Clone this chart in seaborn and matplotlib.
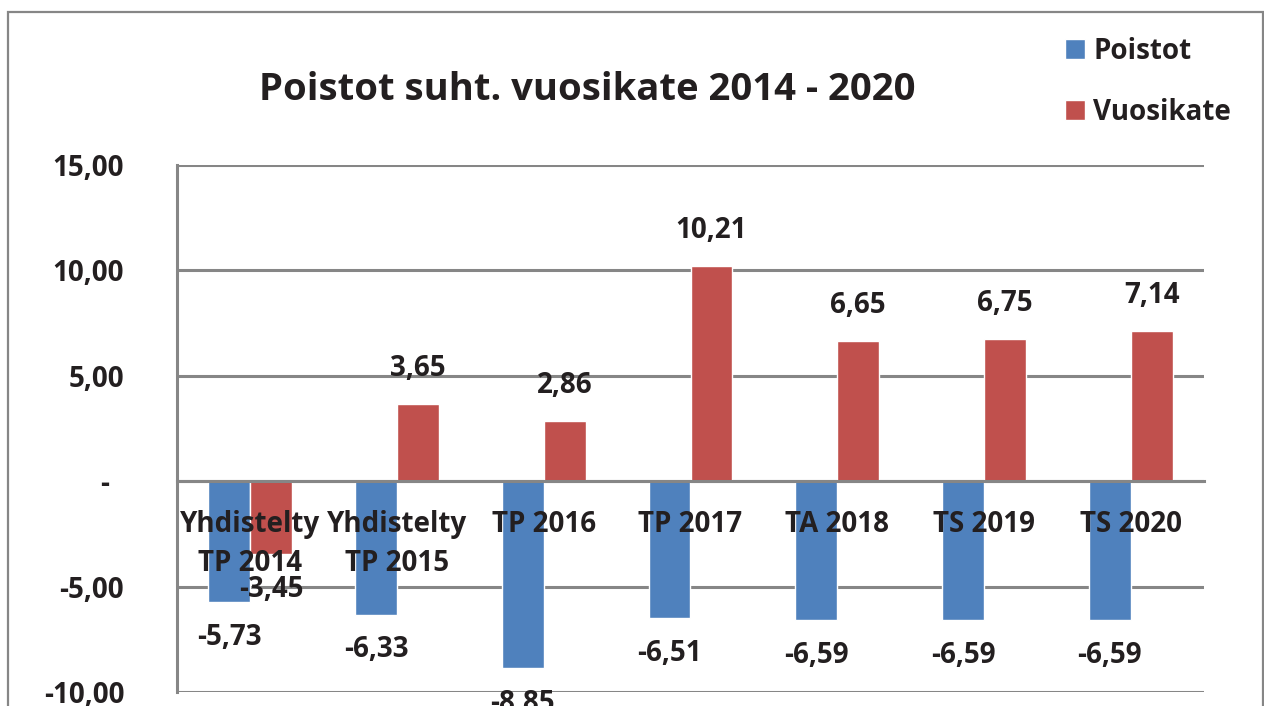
import matplotlib
matplotlib.use("Agg")
import matplotlib.pyplot as plt
import seaborn as sns
import pandas as pd
from matplotlib.patches import Rectangle

# data
categories = ["Yhdistelty\nTP 2014", "Yhdistelty\nTP 2015", "TP 2016", "TP 2017",
              "TA 2018", "TS 2019", "TS 2020"]
poistot = [-5.73, -6.33, -8.85, -6.51, -6.59, -6.59, -6.59]
vuosikate = [-3.45, 3.65, 2.86, 10.21, 6.65, 6.75, 7.14]
y_ticks = [15, 10, 5, 0, -5, -10]
y_ticklabels = ["15,00", "10,00", "5,00", "-  ", "-5,00", "-10,00"]

df = pd.DataFrame({
    "kategoria": categories * 2,
    "arvo": poistot + vuosikate,
    "sarja": ["Poistot"] * len(categories) + ["Vuosikate"] * len(categories),
})

sns.set_style("white")
plt.rcParams["font.family"] = ["Open Sans", "DejaVu Sans"]
plt.rcParams["font.weight"] = "bold"
txt = "#231f20"
grey = "#868686"

fig = plt.figure(figsize=(12.64, 7.06), dpi=100)
ax = fig.add_axes([177/1264, 14/706, (1204-177)/1264, (692-165)/706])

sns.barplot(data=df, x="kategoria", y="arvo", hue="sarja",
            palette=["#4f81bd", "#c0504d"], width=0.572, gap=0,
            saturation=1, ax=ax, legend=True)

ax.set_ylim(-10, 15)
ax.set_yticks(y_ticks)
ax.set_yticklabels(y_ticklabels)
ax.set_xlabel("")
ax.set_ylabel("")
ax.yaxis.grid(True, color=grey, linewidth=2.2)
ax.set_axisbelow(True)
ax.xaxis.set_zorder(5)  # category names sit on top of the bars

for s in ["top", "right"]:
    ax.spines[s].set_visible(False)
ax.spines["left"].set_color(grey)
ax.spines["left"].set_linewidth(2.2)
ax.spines["bottom"].set_position(("data", 0))
ax.spines["bottom"].set_color(grey)
ax.spines["bottom"].set_linewidth(2.2)

ax.tick_params(axis="both", length=0, labelsize=20, labelcolor=txt)
ax.tick_params(axis="y", pad=38)
ax.tick_params(axis="x", pad=21)
for lab in ax.get_xticklabels() + ax.get_yticklabels():
    lab.set_fontweight("bold")
for lab in ax.get_xticklabels():
    lab.set_linespacing(1.43)

# data labels, finnish decimal comma
for cont in ax.containers:
    labs = [f"{b.get_height():.2f}".replace(".", ",") for b in cont]
    ax.bar_label(cont, labels=labs, padding=15, fontsize=20,
                 fontweight="bold", color=txt)

leg = ax.legend(loc="upper left", bbox_to_anchor=(1040/1264, 1 - 12/706),
                bbox_transform=fig.transFigure, frameon=False, fontsize=20,
                handlelength=0.72, handleheight=0.72, handletextpad=0.3,
                labelspacing=1.15, labelcolor=txt)
for t in leg.get_texts():
    t.set_fontweight("bold")

fig.text(587/1264, 1 - 90/706, "Poistot suht. vuosikate 2014 - 2020",
         ha="center", va="center", fontsize=27.5, fontweight="bold", color=txt)

# outer chart frame
fig.add_artist(Rectangle((8/1264, -0.05), (1263-8)/1264, 1.05 - 12/706,
                         transform=fig.transFigure, fill=False,
                         edgecolor=grey, linewidth=1.6))

fig.savefig("out.png", dpi=100)
